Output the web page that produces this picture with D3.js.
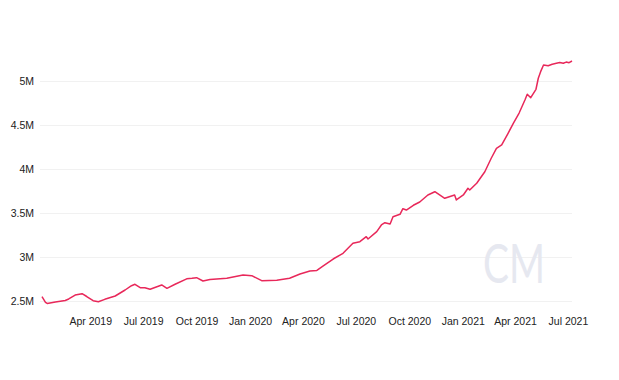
<!DOCTYPE html>
<html>
<head>
<meta charset="utf-8">
<script src="https://cdn.jsdelivr.net/npm/d3@7"></script>
<style>
  html, body { margin: 0; padding: 0; background: #fff; }
  svg { display: block; }
  text { font-family: "Liberation Sans", Arial, Helvetica, sans-serif; }
</style>
</head>
<body>
<svg id="chart" width="619" height="380"></svg>
<script>
// ---- Data ----
const dates = [
  "2019-01-08","2019-01-14","2019-01-17","2019-01-31","2019-02-17","2019-02-23","2019-03-06","2019-03-18",
  "2019-03-26","2019-04-06","2019-04-15","2019-04-26","2019-05-14","2019-05-31","2019-06-11","2019-06-17",
  "2019-06-26","2019-07-04","2019-07-13","2019-08-02","2019-08-11","2019-08-25","2019-09-14","2019-09-23",
  "2019-10-01","2019-10-12","2019-10-24","2019-11-22","2019-12-20","2020-01-04","2020-01-21","2020-02-16",
  "2020-03-09","2020-03-27","2020-04-13","2020-04-25","2020-05-06","2020-05-23","2020-06-09","2020-06-26",
  "2020-07-08","2020-07-19","2020-07-22","2020-08-06","2020-08-14","2020-08-20","2020-08-29","2020-09-03",
  "2020-09-15","2020-09-20","2020-09-26","2020-10-08","2020-10-19","2020-11-02","2020-11-14","2020-12-01",
  "2020-12-18","2020-12-21","2021-01-02","2021-01-10","2021-01-13","2021-01-25","2021-02-08","2021-02-19",
  "2021-02-28","2021-03-09","2021-03-20","2021-03-29","2021-04-08","2021-04-18","2021-04-22","2021-04-28",
  "2021-05-07","2021-05-11","2021-05-15","2021-05-20","2021-05-28","2021-06-04","2021-06-11","2021-06-17",
  "2021-06-23","2021-06-28","2021-07-03","2021-07-08"
];
const values = [
  2.549,2.485,2.472,2.489,2.506,2.523,2.568,2.583,
  2.551,2.503,2.492,2.519,2.557,2.625,2.674,2.690,
  2.651,2.651,2.633,2.682,2.644,2.690,2.752,2.758,
  2.765,2.727,2.744,2.758,2.795,2.788,2.731,2.735,
  2.758,2.807,2.841,2.847,2.898,2.977,3.042,3.156,
  3.174,3.231,3.205,3.288,3.364,3.390,3.375,3.458,
  3.485,3.549,3.534,3.588,3.625,3.705,3.742,3.667,
  3.705,3.648,3.705,3.781,3.761,3.838,3.969,4.122,
  4.235,4.273,4.406,4.519,4.636,4.784,4.849,4.810,
  4.906,5.031,5.106,5.182,5.174,5.190,5.201,5.210,
  5.201,5.215,5.208,5.227
];
const yTicks = [2.5, 3, 3.5, 4, 4.5, 5];
const yTickLabels = ["2.5M", "3M", "3.5M", "4M", "4.5M", "5M"];

// ---- Chart ----
const parse = d3.timeParse("%Y-%m-%d");
const data = dates.map((d, i) => ({ date: parse(d), value: values[i] }));

const svg = d3.select("#chart");
const plotLeft = 40, plotRight = 572;

const x = d3.scaleTime()
  .domain(d3.extent(data, d => d.date))
  .range([42, 572]);

const y = d3.scaleLinear()
  .domain([2.5, 5])
  .range([301, 81]);

// gridlines + y labels
const yAxis = d3.axisLeft(y)
  .tickValues(yTicks)
  .tickFormat((d, i) => yTickLabels[i])
  .tickSize(0)
  .tickPadding(0);

const gy = svg.append("g")
  .attr("transform", `translate(${plotLeft},0)`)
  .call(yAxis);
gy.select(".domain").remove();
gy.selectAll(".tick text")
  .attr("x", -6)
  .attr("fill", "#222")
  .style("font-size", "10.5px");
gy.selectAll(".tick")
  .append("line")
  .attr("x1", 0)
  .attr("x2", plotRight - plotLeft)
  .attr("stroke", "#f1f1f1")
  .attr("stroke-width", 1);

// x labels
const xAxis = d3.axisBottom(x)
  .ticks(d3.timeMonth.every(3))
  .tickFormat(d3.timeFormat("%b %Y"))
  .tickSize(0)
  .tickPadding(0);

const gx = svg.append("g")
  .attr("transform", "translate(0,318)")
  .call(xAxis);
gx.select(".domain").remove();
gx.selectAll(".tick text")
  .attr("fill", "#222")
  .style("font-size", "10.5px");
gx.selectAll(".tick").filter(d => x(d) < 60).remove();

// watermark
svg.append("text")
  .attr("x", 514)
  .attr("y", 283)
  .attr("text-anchor", "middle")
  .attr("textLength", 62)
  .attr("lengthAdjust", "spacingAndGlyphs")
  .style("font-family", "Lato, 'Open Sans', sans-serif")
  .style("font-weight", 400)
  .style("font-size", "54px")
  .attr("fill", "#e6e8f0")
  .text("CM");

// line
const line = d3.line()
  .x(d => x(d.date))
  .y(d => y(d.value));

svg.append("path")
  .datum(data)
  .attr("d", line)
  .attr("fill", "none")
  .attr("stroke", "#e8285a")
  .attr("stroke-width", 1.5)
  .attr("stroke-linejoin", "round");
</script>
</body>
</html>
